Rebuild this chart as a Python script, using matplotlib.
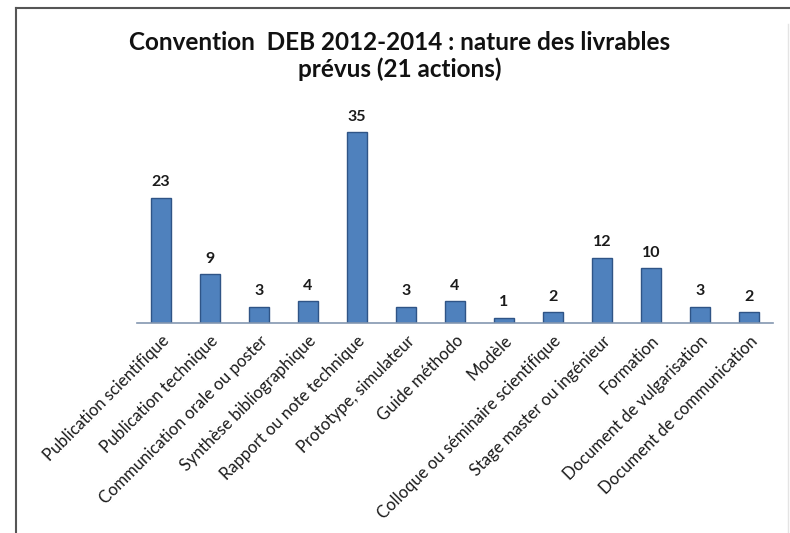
import numpy as np
import matplotlib.pyplot as plt
from matplotlib.lines import Line2D

# Livrables prévus par catégorie
categories = ["Publication scientifique", "Publication technique",
              "Communication orale ou poster", "Synthèse bibliographique",
              "Rapport ou note technique", "Prototype, simulateur",
              "Guide méthodo", "Modèle",
              "Colloque ou séminaire scientifique",
              "Stage master ou ingénieur", "Formation",
              "Document de vulgarisation", "Document de communication"]
counts = [23, 9, 3, 4, 35, 3, 4, 1, 2, 12, 10, 3, 2]

plt.rcParams['font.family'] = ['Lato', 'DejaVu Sans']

fig = plt.figure(figsize=(7.9, 5.33), dpi=100)
ax = fig.add_axes([0.1728, 0.394, 0.8063, 0.409])

x = np.arange(len(categories))
ax.bar(x, counts, width=0.39, color='#4F81BD', edgecolor='#2F5486', linewidth=1.0)

for xi, c in zip(x, counts):
    ax.annotate(str(c), (xi, c), xytext=(0, 6), textcoords='offset points',
                ha='center', va='bottom', fontsize=11.5, fontweight='bold',
                color='#1a1a1a')

ax.set_xlim(-0.5, len(categories) - 0.5)
ax.set_ylim(0, 40)
ax.set_yticks([])
ax.set_xticks(x)
ax.set_xticklabels(categories, rotation=45, ha='right', rotation_mode='anchor',
                   fontsize=12, color='#1a1a1a')
ax.tick_params(axis='x', length=0, pad=7)
for s in ['top', 'right', 'left']:
    ax.spines[s].set_visible(False)
ax.spines['bottom'].set_color('#8497B0')
ax.spines['bottom'].set_linewidth(1.2)

fig.text(0.506, 0.895, "Convention  DEB 2012-2014 : nature des livrables\nprévus (21 actions)",
         ha='center', va='center', fontsize=17.5, fontweight='bold',
         linespacing=1.2, color='#111111')

# cadre du graphique : bords gauche et haut marqués, bord droit discret
fx0, fy1 = 16 / 790, 1 - 8 / 533
fx1 = 788 / 790
fig.lines.append(Line2D([fx0, fx0], [0, fy1], transform=fig.transFigure,
                        color='#555555', linewidth=1.5))
fig.lines.append(Line2D([fx0, fx1 + 0.01], [fy1, fy1], transform=fig.transFigure,
                        color='#555555', linewidth=1.5))
fig.lines.append(Line2D([fx1, fx1], [0, fy1 - 0.03], transform=fig.transFigure,
                        color='#e4e4e4', linewidth=1.0))

fig.savefig("out.png", dpi=100)
